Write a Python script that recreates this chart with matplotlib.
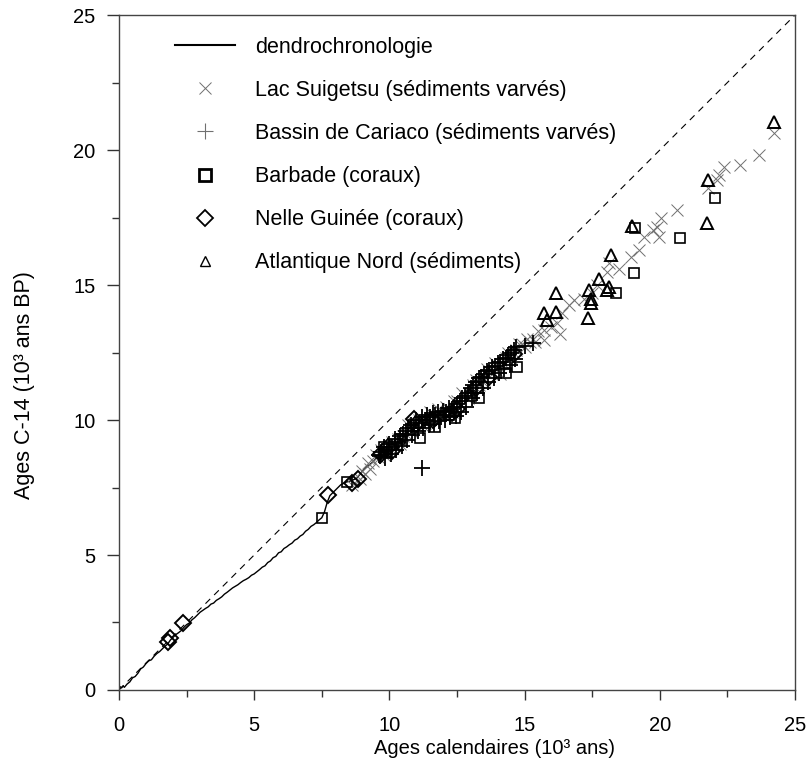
import matplotlib
matplotlib.use('Agg')
import matplotlib.pyplot as plt
from matplotlib.lines import Line2D
from matplotlib.ticker import MultipleLocator

plt.rcParams['font.family'] = ['Liberation Sans', 'DejaVu Sans']

# dendrochronologie curve (cal ka, C14 ka)
dendro_x = [0.0, 0.05, 0.1, 0.15, 0.2, 0.3, 0.4, 0.5, 0.6, 0.7, 0.8, 0.9, 1.0, 1.1, 1.2,
            1.3, 1.4, 1.5, 1.6, 1.7, 1.8, 1.9, 2.0, 2.1, 2.2, 2.3, 2.4, 2.5, 2.6, 2.7,
            2.8, 2.9, 3.0, 3.1, 3.2, 3.3, 3.4, 3.5, 3.6, 3.7, 3.8, 3.9, 4.0, 4.1, 4.2,
            4.3, 4.4, 4.5, 4.6, 4.7, 4.8, 4.9, 5.0, 5.1, 5.2, 5.3, 5.4, 5.5, 5.6, 5.7,
            5.8, 5.9, 6.0, 6.1, 6.2, 6.3, 6.4, 6.5, 6.6, 6.7, 6.8, 6.9, 7.0, 7.1, 7.2,
            7.3, 7.4, 7.5, 7.6, 7.7, 7.8, 7.9, 8.0, 8.2, 8.4, 8.6, 8.8, 9.0, 9.2, 9.4,
            9.6, 9.8, 10.0, 10.2, 10.4, 10.6, 10.8, 11.0, 11.2, 11.4, 11.6, 11.8]
dendro_y = [0.05, 0.12, 0.08, 0.15, 0.1, 0.22, 0.3, 0.45, 0.5, 0.62, 0.78, 0.85, 0.98, 1.08, 1.12,
            1.25, 1.35, 1.42, 1.52, 1.62, 1.7, 1.85, 1.95, 2.05, 2.12, 2.2, 2.32, 2.42, 2.48, 2.6,
            2.68, 2.78, 2.88, 2.95, 3.02, 3.08, 3.18, 3.22, 3.32, 3.38, 3.45, 3.55, 3.62, 3.7, 3.78,
            3.84, 3.9, 3.98, 4.05, 4.1, 4.16, 4.25, 4.3, 4.38, 4.46, 4.55, 4.6, 4.72, 4.78, 4.9,
            4.95, 5.08, 5.12, 5.24, 5.3, 5.38, 5.44, 5.55, 5.6, 5.7, 5.76, 5.88, 5.95, 6.06, 6.12,
            6.2, 6.3, 6.38, 6.6, 6.95, 7.2, 7.3, 7.4, 7.6, 7.7, 7.75, 7.85, 8.1, 8.3, 8.45,
            8.7, 8.95, 9.0, 9.25, 9.35, 9.55, 9.75, 9.95, 10.05, 10.15, 10.1, 10.2]

# Lac Suigetsu (sediments varves)
suig_x = [8.6, 8.9, 9.0, 9.1, 9.2, 9.3, 9.4, 9.5, 9.6, 9.7, 9.8, 9.9, 10.0, 10.1, 10.2, 10.3,
          10.4, 10.5, 10.6, 10.7, 10.8, 10.9, 11.0, 11.1, 11.2, 11.3, 11.4, 11.5, 11.6, 11.7,
          11.8, 11.9, 12.0, 12.1, 12.2, 12.3, 12.4, 12.5, 12.6, 12.7, 12.8, 12.9, 13.0, 13.1,
          13.2, 13.3, 13.4, 13.5, 13.6, 13.7, 13.8, 13.9, 14.0, 14.1, 14.2, 14.3, 14.4, 14.5,
          14.6, 14.7, 14.8, 14.9, 15.0, 15.1, 15.2, 15.3, 15.4, 15.5, 15.7,
          15.72, 15.96, 16.21, 16.3, 16.4, 16.64, 16.83, 17.2, 17.5, 17.69, 18.06, 18.12,
          18.5, 18.93, 19.23, 19.42, 19.73, 19.9, 19.97, 20.04, 20.65, 21.8, 22.1, 22.2,
          22.38, 22.97, 23.68, 24.23]
suig_y = [7.6, 7.8, 8.1, 8.0, 8.4, 8.2, 8.5, 8.7, 8.6, 8.9, 8.7, 8.8, 9.0, 9.2, 9.1, 9.3,
          9.1, 9.4, 9.5, 9.8, 9.6, 9.9, 9.8, 10.0, 9.8, 9.9, 10.0, 10.3, 10.2, 10.1,
          10.4, 10.3, 10.2, 10.5, 10.4, 10.3, 10.7, 10.7, 10.6, 11.0, 10.9, 10.8, 11.0, 11.3,
          11.5, 11.3, 11.5, 11.5, 11.9, 11.8, 11.7, 12.1, 12.0, 11.7, 12.1, 12.3, 12.5, 12.3,
          12.5, 12.6, 12.8, 12.8, 12.7, 13.0, 12.9, 13.0, 12.9, 13.3, 12.96,
          13.33, 13.46, 13.58, 13.2, 13.95, 14.26, 14.44, 14.5, 14.69, 15.0, 15.49, 15.8,
          15.6, 16.05, 16.3, 16.79, 17.04, 17.16, 16.79, 17.47, 17.78, 18.6, 18.89, 19.07,
          19.38, 19.44, 19.81, 20.62]

# Bassin de Cariaco (sediments varves)
cari_x = [9.6, 9.65, 9.7, 9.8, 9.85, 9.9, 10.0, 10.05, 10.1, 10.2, 10.25, 10.3, 10.4, 10.45,
          10.5, 10.6, 10.65, 10.7, 10.8, 10.85, 10.9, 11.0, 11.05, 11.1, 11.2, 11.25, 11.3,
          11.4, 11.45, 11.5, 11.6, 11.65, 11.7, 11.8, 11.85, 11.9, 12.0, 12.05, 12.1, 12.2,
          12.25, 12.3, 12.4, 12.45, 12.5, 12.6, 12.65, 12.7, 12.8, 12.85, 12.9, 13.0, 13.05,
          13.1, 13.2, 13.25, 13.3, 13.4, 13.45, 13.5, 13.6, 13.65, 13.7, 13.8, 13.85, 13.9,
          14.0, 14.05, 14.1, 14.2, 14.25, 14.3, 14.4, 14.45, 14.5, 14.6, 14.65, 14.7, 15.0,
          15.3, 11.2]
cari_y = [8.7, 8.65, 8.8, 9.0, 8.6, 8.9, 9.1, 8.75, 9.0, 9.3, 8.9, 9.2, 9.4, 9.05,
          9.5, 9.6, 9.25, 9.7, 9.8, 9.45, 9.7, 10.0, 9.6, 9.9, 10.1, 9.7, 10.0,
          10.2, 9.8, 10.1, 10.25, 9.85, 10.2, 10.3, 9.95, 10.2, 10.35, 10.0, 10.3, 10.45,
          10.1, 10.4, 10.5, 10.15, 10.6, 10.7, 10.3, 10.8, 10.9, 10.5, 11.0, 11.2, 10.8,
          11.3, 11.4, 11.0, 11.55, 11.6, 11.2, 11.7, 11.8, 11.4, 11.85, 11.95, 11.55, 12.0,
          12.1, 11.75, 12.15, 12.25, 11.9, 12.3, 12.4, 12.05, 12.5, 12.6, 12.25, 12.7, 12.75,
          12.85, 8.22]

# Barbade (coraux)
barb_x = [7.5, 8.43, 9.79, 9.9, 10.4, 11.15, 11.7, 12.2, 12.44, 13.0, 13.31, 14.3, 14.73,
          18.37, 19.05, 19.09, 20.74, 22.05]
barb_y = [6.36, 7.72, 9.01, 8.8, 9.3, 9.33, 9.75, 10.2, 10.06, 10.9, 10.8, 11.73, 11.98,
          14.72, 15.43, 17.1, 16.73, 18.21]

# Nelle Guinee (coraux)
guin_x = [1.81, 1.9, 2.37, 7.74, 8.6, 8.85, 9.7, 9.95, 10.1, 10.9, 11.0, 11.6, 12.3, 12.5,
          13.2, 13.7, 14.6]
guin_y = [1.78, 1.92, 2.48, 7.22, 7.65, 7.8, 8.75, 9.0, 8.85, 10.05, 9.85, 10.0, 10.25, 10.4,
          11.2, 11.6, 12.45]

# Atlantique Nord (sediments)
atl_x = [24.23, 21.77, 21.74, 18.96, 18.21, 17.75, 18.12, 17.38, 17.44, 17.35, 16.15, 15.72,
         16.15, 15.84, 17.44, 18.06]
atl_y = [21.05, 18.89, 17.31, 17.19, 16.11, 15.22, 14.94, 14.81, 14.32, 13.77, 14.69, 13.95,
         14.01, 13.70, 14.5, 14.81]

fig = plt.figure(figsize=(8.11, 7.70), dpi=100)
ax = fig.add_axes([0.1467, 0.1039, 0.8336, 0.8766])

ax.plot([0, 25], [0, 25], color='black', lw=0.8, ls=(0, (6, 5)))
ax.plot(dendro_x, dendro_y, color='black', lw=1.0)
ax.plot(suig_x, suig_y, ls='none', marker='x', ms=9, mew=0.7, color='#707070')
ax.plot(cari_x, cari_y, ls='none', marker='+', ms=11, mew=1.3, color='black')
ax.plot(barb_x, barb_y, ls='none', marker='s', ms=7.5, mew=1.2, mfc='none', mec='black')
ax.plot(guin_x, guin_y, ls='none', marker='D', ms=8, mew=1.4, mfc='none', mec='black')
ax.plot(atl_x, atl_y, ls='none', marker='^', ms=8, mew=1.4, mfc='none', mec='black')

ax.set_xlim(0, 25)
ax.set_ylim(0, 25)
ax.xaxis.set_major_locator(MultipleLocator(5))
ax.yaxis.set_major_locator(MultipleLocator(5))
ax.xaxis.set_minor_locator(MultipleLocator(2.5))
ax.yaxis.set_minor_locator(MultipleLocator(2.5))
ax.tick_params(which='major', direction='out', length=7, width=1, labelsize=14.5, pad=12, color='#333333')
ax.tick_params(which='minor', direction='out', length=5, width=1, color='#333333')
ax.tick_params(axis='y', which='major', length=9, pad=8)
for s in ax.spines.values():
    s.set_color('#444444')
    s.set_linewidth(1)

ax.set_xlabel('Ages calendaires (10³ ans)', fontsize=14.5)
ax.set_ylabel('Ages C-14 (10³ ans BP)', fontsize=15.5)
ax.xaxis.set_label_coords(0.556, -0.072)
ax.yaxis.set_label_coords(-0.124, 0.452)

handles = [
    Line2D([], [], color='black', lw=1.5),
    Line2D([], [], ls='none', marker='x', ms=9, mew=0.7, color='#707070'),
    Line2D([], [], ls='none', marker='+', ms=11, mew=0.8, color='#707070'),
    Line2D([], [], ls='none', marker='s', ms=8, mew=2, mfc='none', mec='black'),
    Line2D([], [], ls='none', marker='D', ms=8, mew=1.3, mfc='none', mec='black'),
    Line2D([], [], ls='none', marker='^', ms=7, mew=1, mfc='none', mec='black'),
]
labels = ['dendrochronologie', 'Lac Suigetsu (sédiments varvés)',
          'Bassin de Cariaco (sédiments varvés)', 'Barbade (coraux)',
          'Nelle Guinée (coraux)', 'Atlantique Nord (sédiments)']
ax.legend(handles, labels, loc='upper left', bbox_to_anchor=(0.083, 0.968),
          frameon=False, fontsize=15.5, handlelength=2.8, handletextpad=0.93,
          labelspacing=1.03, borderaxespad=0, borderpad=0)

fig.savefig('out.png', dpi=100)
